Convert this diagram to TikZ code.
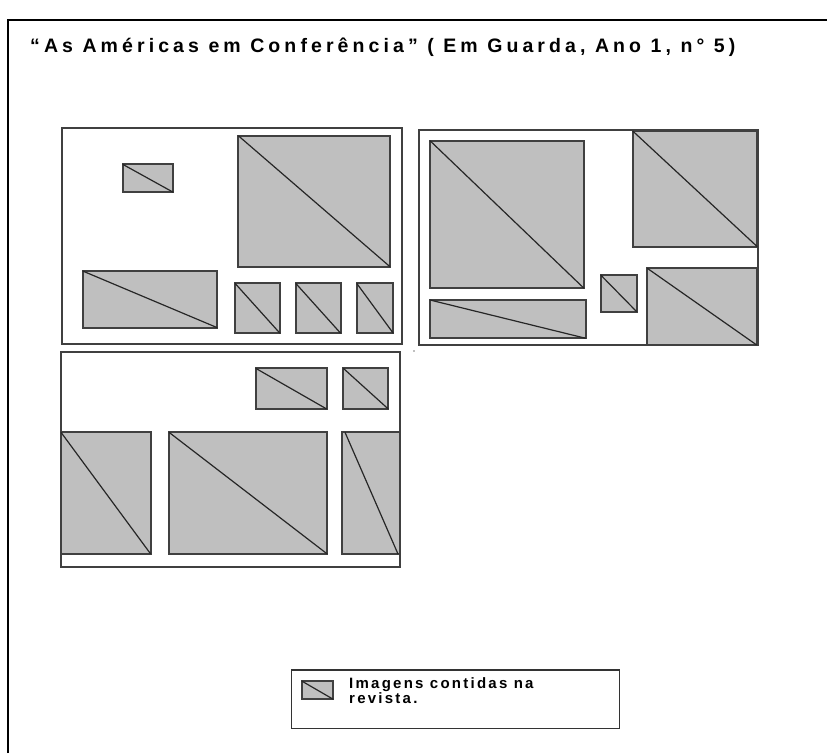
\documentclass[tikz,border=0pt]{standalone}
\usepackage{fontspec}
\setmainfont{Liberation Sans}
\newfontfamily\titlefont[LetterSpace=21]{Liberation Sans}
\newfontfamily\legfont[LetterSpace=15]{Liberation Sans}
\tikzset{
  frameline/.style={draw=black, line width=2.2pt},
  pagebox/.style={draw=black!75, line width=1.8pt},
  imgbox/.style={draw=black!75, fill=black!25, line width=1.9pt},
  diag/.style={draw=black!85, line width=1.2pt},
  legendbox/.style={draw=black!80, line width=1.5pt},
  legtxt/.style={anchor=base west, inner sep=0pt, font=\legfont\fontsize{15}{17}\selectfont\bfseries},
}
\newcommand{\imgrect}[4]{%
  \draw[imgbox] (#1,#2) rectangle (#3,#4);
  \draw[diag] (#1,#2) -- (#3,#4);
}
\begin{document}
\begin{tikzpicture}[x=1pt,y=-1pt]
\useasboundingbox (0,0) rectangle (827,753);
% outer frame
\draw[frameline] (8,753) -- (8,20) -- (827,20);
% title
\node[anchor=base west, inner sep=0pt, font=\titlefont\fontsize{19.5}{22}\selectfont\bfseries] (title) at (30,52)
  {“As Américas em Conferência” ( Em Guarda, Ano 1, n° 5)};
% page 1
\draw[pagebox] (62,128) rectangle (402,344);
\imgrect{122.7}{164.3}{173.3}{192.3}
\imgrect{238.3}{135.7}{390}{266.7}
\imgrect{82.7}{271}{217.3}{327.7}
\imgrect{235}{283.3}{280}{333.3}
\imgrect{295.7}{283.3}{340.7}{333.3}
\imgrect{356.7}{283.3}{393.3}{333.3}
% page 2
\draw[pagebox] (419.3,130) rectangle (758.3,345);
\imgrect{430}{140.7}{584}{288.3}
\imgrect{632.7}{131}{757.3}{246.7}
\imgrect{430}{300}{585.7}{338.3}
\imgrect{600.7}{275}{636.7}{311.7}
\imgrect{647.3}{268.3}{756.7}{345}
\fill[black!50] (414,351) circle (0.8);
% page 3
\draw[pagebox] (61,352.3) rectangle (400,566.7);
\imgrect{255.7}{368.3}{326.7}{409}
\imgrect{343.3}{368.3}{388.3}{409}
\imgrect{61}{432.3}{150.7}{554}
\imgrect{169}{432.3}{327.3}{554}
\draw[imgbox] (342.3,432.3) rectangle (400,554);
\draw[diag] (345,432.3) -- (398,554);
% legend
\draw[legendbox] (291.7,670) rectangle (619.7,728.3);
\imgrect{301.7}{681}{333.3}{699.3}
\node[legtxt] (leg1) at (349,688) {Imagens contidas na};
\node[legtxt] (leg2) at (349,703) {revista.};
\end{tikzpicture}
\end{document}
